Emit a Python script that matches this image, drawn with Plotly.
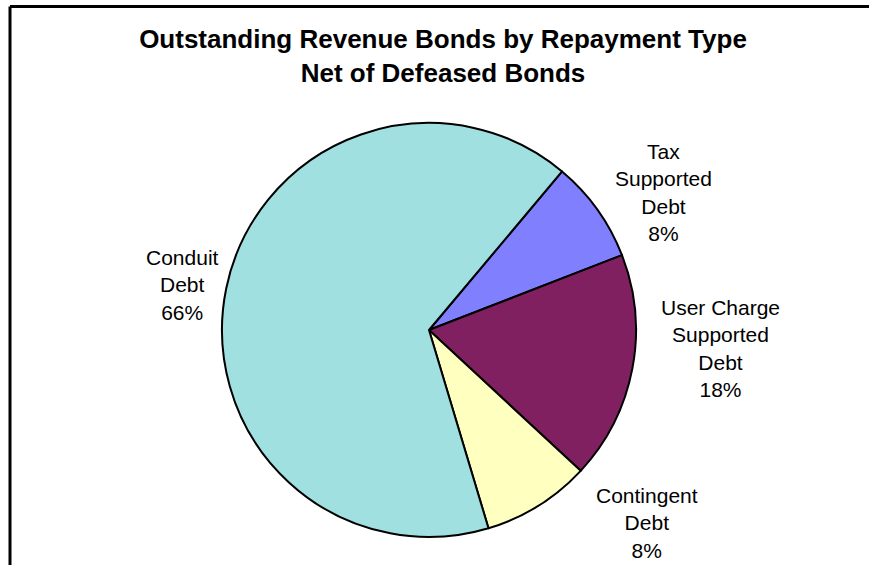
"""Pie chart: outstanding revenue bonds by repayment type, net of defeased bonds."""

import plotly.graph_objects as go

W, H = 869, 565

# Data (share of outstanding revenue bonds, %)
CATEGORIES = ["Tax Supported Debt", "User Charge Supported Debt",
              "Contingent Debt", "Conduit Debt"]
LABEL_LINES = ["Tax<br>Supported<br>Debt", "User Charge<br>Supported<br>Debt",
               "Contingent<br>Debt", "Conduit<br>Debt"]
SHARES = [8.0, 17.8, 8.45, 65.75]
COLORS = ["#8080FF", "#802060", "#FFFFC0", "#A0E0E0"]

# Label centres in pixels (x, y)
LABEL_POS = [(663, 192), (720, 348), (647, 523), (182, 285)]

FONT = "Liberation Sans, Arial, sans-serif"


def px(x, y):
    return x / W, 1 - y / H


fig = go.Figure()
fig.add_trace(go.Pie(
    labels=CATEGORIES, values=SHARES, sort=False, direction="clockwise",
    rotation=40, textinfo="none", hoverinfo="label+percent",
    marker=dict(colors=COLORS, line=dict(color="#000000", width=2)),
    domain=dict(x=[222 / W, 636 / W], y=[1 - 537 / H, 1 - 123 / H]),
    showlegend=False,
))

total = sum(SHARES)
for text, share, (x, y) in zip(LABEL_LINES, SHARES, LABEL_POS):
    ax, ay = px(x, y)
    fig.add_annotation(
        x=ax, y=ay, xref="paper", yref="paper", xanchor="center", yanchor="middle",
        text=f"{text}<br>{round(share / total * 100)}%", showarrow=False,
        align="center", font=dict(family=FONT, size=21, color="#000000"))

# Chart frame: only left and top edges fall inside the image
frame = dict(color="#000000", width=3)
fig.add_shape(type="line", xref="paper", yref="paper",
              x0=10 / W, x1=10 / W, y0=0, y1=1 - 6.5 / H, line=frame)
fig.add_shape(type="line", xref="paper", yref="paper",
              x0=10 / W, x1=1, y0=1 - 6.5 / H, y1=1 - 6.5 / H, line=frame)

fig.update_layout(
    width=W, height=H,
    margin=dict(l=0, r=0, t=0, b=0),
    paper_bgcolor="white", plot_bgcolor="white",
    title=dict(text="<b>Outstanding Revenue Bonds by Repayment Type<br>Net of Defeased Bonds</b>",
               x=443 / W, xanchor="center", y=1 - 48 / H, yanchor="middle",
               font=dict(family=FONT, size=26, color="#000000")),
)

fig.write_html("out.html", config={"displayModeBar": False},
               post_script="document.body.style.margin = '0';")
